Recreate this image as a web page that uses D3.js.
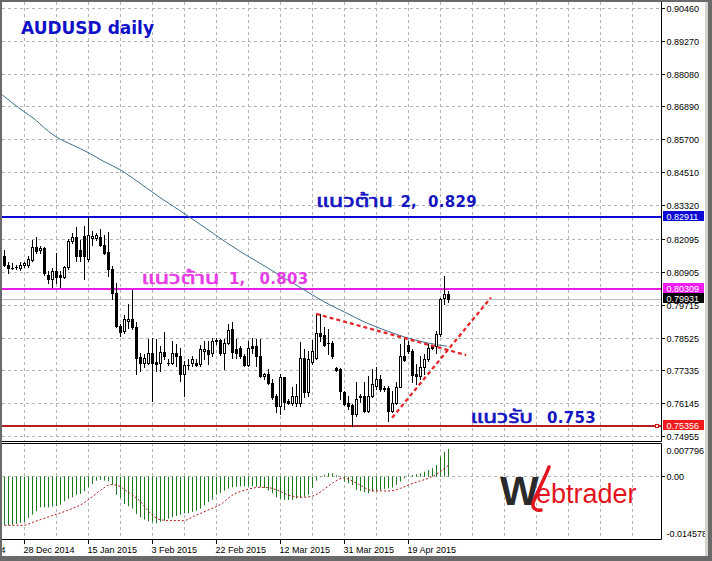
<!DOCTYPE html>
<html><head><meta charset="utf-8">
<script src="https://cdn.jsdelivr.net/npm/d3@7"></script>
<style>body{margin:0;background:#fff;overflow:hidden}svg{display:block}</style>
</head><body><svg id="c" width="712" height="561"></svg>
<script>
// ---------- DATA ----------
const opens = [0.8148,0.8118,0.8107,0.8110,0.8106,0.8116,0.8116,0.8135,0.8183,0.8171,
0.8180,0.8080,0.8065,0.8096,0.8080,0.8072,0.8108,0.8202,0.8219,0.8173,
0.8221,0.8137,0.8213,0.8214,0.8219,0.8191,0.8163,0.8101,0.8017,0.7896,
0.7878,0.7914,0.7921,0.7891,0.7784,0.7764,0.7764,0.7798,0.7767,0.7762,
0.7802,0.7764,0.7764,0.7798,0.7786,0.7722,0.7754,0.7762,0.7764,0.7758,
0.7806,0.7809,0.7800,0.7843,0.7845,0.7800,0.7836,0.7884,0.7812,0.7818,
0.7786,0.7754,0.7824,0.7822,0.7788,0.7714,0.7722,0.7689,0.7644,0.7605,
0.7710,0.7626,0.7617,0.7617,0.7617,0.7779,0.7658,0.7765,0.7782,0.7872,
0.7863,0.7834,0.7834,0.7744,0.7740,0.7658,0.7617,0.7610,0.7577,0.7644,
0.7644,0.7589,0.7641,0.7680,0.7704,0.7671,0.7670,0.7589,0.7617,0.7677,
0.7786,0.7827,0.7806,0.7722,0.7714,0.7746,0.7776,0.7824,0.7822,0.7866,
0.7996,0.8011];
const highs = [0.8173,0.8127,0.8125,0.8116,0.8129,0.8127,0.8151,0.8207,0.8219,0.8185,
0.8183,0.8095,0.8107,0.8159,0.8095,0.8113,0.8212,0.8234,0.8255,0.8209,
0.8257,0.8290,0.8239,0.8231,0.8246,0.8227,0.8236,0.8113,0.8053,0.7902,
0.7935,0.7975,0.8026,0.7909,0.7800,0.7794,0.7848,0.7851,0.7848,0.7824,
0.7875,0.7776,0.7842,0.7830,0.7815,0.7769,0.7776,0.7787,0.7776,0.7827,
0.7842,0.7842,0.7854,0.7854,0.7850,0.7848,0.7902,0.7911,0.7848,0.7824,
0.7794,0.7842,0.7854,0.7848,0.7848,0.7726,0.7740,0.7704,0.7650,0.7722,
0.7710,0.7632,0.7674,0.7686,0.7839,0.7812,0.7806,0.7845,0.7939,0.7939,
0.7891,0.7884,0.7842,0.7747,0.7744,0.7662,0.7644,0.7614,0.7692,0.7650,
0.7692,0.7716,0.7740,0.7746,0.7718,0.7680,0.7680,0.7662,0.7692,0.7830,
0.7848,0.7842,0.7812,0.7758,0.7788,0.7794,0.7830,0.7827,0.7878,0.7999,
0.8077,0.8023];
const lows = [0.8112,0.8087,0.8101,0.8101,0.8099,0.8111,0.8111,0.8131,0.8162,0.8162,
0.8080,0.8053,0.8039,0.8053,0.8039,0.8070,0.8101,0.8198,0.8131,0.8132,
0.8065,0.8131,0.8191,0.8209,0.8185,0.8155,0.8077,0.7993,0.7891,0.7860,
0.7872,0.7890,0.7884,0.7722,0.7734,0.7746,0.7760,0.7626,0.7734,0.7734,
0.7776,0.7754,0.7758,0.7752,0.7698,0.7644,0.7740,0.7752,0.7750,0.7752,
0.7776,0.7758,0.7788,0.7830,0.7791,0.7740,0.7830,0.7779,0.7779,0.7782,
0.7752,0.7752,0.7800,0.7752,0.7710,0.7704,0.7686,0.7632,0.7584,0.7577,
0.7596,0.7614,0.7610,0.7607,0.7607,0.7638,0.7644,0.7758,0.7776,0.7842,
0.7824,0.7794,0.7782,0.7733,0.7632,0.7610,0.7596,0.7535,0.7571,0.7620,
0.7584,0.7584,0.7638,0.7668,0.7662,0.7662,0.7553,0.7584,0.7614,0.7674,
0.7770,0.7800,0.7692,0.7686,0.7704,0.7722,0.7770,0.7812,0.7800,0.7860,
0.7975,0.7983];
const closes = [0.8117,0.8106,0.8106,0.8108,0.8118,0.8123,0.8137,0.8183,0.8166,0.8180,
0.8087,0.8065,0.8096,0.8075,0.8072,0.8111,0.8202,0.8219,0.8149,0.8149,
0.8149,0.8224,0.8221,0.8224,0.8191,0.8161,0.8101,0.8017,0.7896,0.7875,
0.7923,0.7923,0.7891,0.7782,0.7764,0.7782,0.7800,0.7764,0.7759,0.7802,
0.7788,0.7761,0.7798,0.7786,0.7722,0.7754,0.7756,0.7776,0.7754,0.7812,
0.7812,0.7794,0.7842,0.7845,0.7798,0.7836,0.7882,0.7801,0.7800,0.7786,
0.7754,0.7818,0.7815,0.7786,0.7714,0.7722,0.7689,0.7638,0.7605,0.7710,
0.7620,0.7617,0.7641,0.7641,0.7779,0.7658,0.7776,0.7805,0.7872,0.7860,
0.7829,0.7836,0.7788,0.7738,0.7662,0.7614,0.7605,0.7577,0.7632,0.7639,
0.7589,0.7644,0.7686,0.7704,0.7668,0.7669,0.7589,0.7617,0.7677,0.7786,
0.7774,0.7806,0.7718,0.7714,0.7746,0.7776,0.7818,0.7815,0.7866,0.7995,
0.8011,0.7993];
// moving average: [bar index, price]
const maPoints = [[-0.6,0.8733],[1.9,0.8704],[4.9,0.8672],[7.7,0.8643],[9.9,0.8614],[12.9,0.8581],
[16.9,0.8552],[20.9,0.8524],[24.9,0.8491],[28.9,0.8462],[32.2,0.8430],[38.9,0.8361],[45.7,0.8296],
[52.2,0.8231],[58.9,0.8166],[63.9,0.8123],[68.9,0.8079],[73.9,0.8036],[80.1,0.7982],[85.1,0.7946],
[90.1,0.7910],[95.1,0.7881],[100.1,0.7856],[105.1,0.7837],[110.6,0.7823]];
// MACD main (histogram)
const macd = [-0.01128,-0.01128,-0.01113,-0.01098,-0.01074,-0.01051,-0.00958,-0.00881,-0.00804,-0.00711,
-0.00711,-0.00711,-0.00696,-0.00680,-0.00649,-0.00572,-0.00518,-0.00479,-0.00417,-0.00402,
-0.00340,-0.00247,-0.00170,-0.00093,-0.00077,-0.00093,-0.00108,-0.00185,-0.00417,-0.00495,
-0.00634,-0.00688,-0.00742,-0.00866,-0.00943,-0.00997,-0.01036,-0.01051,-0.01082,-0.01051,
-0.01020,-0.00974,-0.00943,-0.00912,-0.00881,-0.00850,-0.00850,-0.00819,-0.00788,-0.00742,
-0.00665,-0.00587,-0.00533,-0.00417,-0.00379,-0.00325,-0.00278,-0.00247,-0.00232,-0.00224,
-0.00224,-0.00224,-0.00224,-0.00232,-0.00247,-0.00263,-0.00325,-0.00386,-0.00479,-0.00510,
-0.00541,-0.00541,-0.00541,-0.00510,-0.00495,-0.00464,-0.00417,-0.00263,-0.00093,-0.00015,
0.00046,0.00085,0.00077,0.00031,-0.00015,-0.00116,-0.00155,-0.00193,-0.00309,-0.00332,
-0.00363,-0.00386,-0.00348,-0.00332,-0.00309,-0.00286,-0.00271,-0.00255,-0.00193,-0.00116,
-0.00039,0.00023,0.00039,0.00054,0.00077,0.00116,0.00155,0.00193,0.00271,0.00464,
0.00580,0.00642];
// MACD signal: [bar index, value]
const signalPoints = [[0,-0.01128],[4.8,-0.01128],[7.3,-0.01051],[11.4,-0.00920],[15.6,-0.00788],
[19.8,-0.00611],[22.3,-0.00441],[24.8,-0.00263],[26.4,-0.00185],[28.1,-0.00201],[30.6,-0.00340],
[33.9,-0.00572],[36.4,-0.00842],[38.9,-0.00997],[41.4,-0.01020],[44.8,-0.01020],[47.3,-0.00920],
[50.6,-0.00788],[53.9,-0.00649],[57.2,-0.00417],[60.6,-0.00301],[63.9,-0.00247],[66.4,-0.00263],
[68.9,-0.00340],[71.4,-0.00441],[74.8,-0.00479],[77.3,-0.00441],[79.8,-0.00301],[82.3,-0.00131],
[84.8,-0.00031],[86.5,-0.00080],[88.5,-0.00175],[92.3,-0.00332],[96.4,-0.00332],[99.0,-0.00271],
[101.4,-0.00178],[103.9,-0.00100],[106.4,-0.00023],[108.9,0.00116],[110.6,0.00232],[111,0.00260]];
// horizontal levels and labels
const levelPrices = [0.82911, 0.80309, 0.75356];
const levelThai = ["แนวต้าน", "แนวต้าน", "แนวรับ"];
const levelNums = ["2,", "1,", ""];
const levelValues = ["0.829", "0.803", "0.753"];
const lastPrice = 0.79931;
// trend lines: [[bar, price],[bar, price]]
const trendDown = [[77.9, 0.7940], [115.4, 0.7791]];
const trendUp = [[96.9, 0.7564], [121.6, 0.7999]];
// axis ticks
const priceTicks = [0.90460,0.89270,0.88080,0.86890,0.85700,0.84510,0.83320,0.82095,0.80905,0.79715,0.78525,0.77335,0.76145,0.74955];
const priceTickLabels = ["0.90460","0.89270","0.88080","0.86890","0.85700","0.84510","0.83320","0.82095","0.80905","0.79715","0.78525","0.77335","0.76145","0.74955"];
const macdTicks = [0.007796, 0.0, -0.014578];
const macdTickLabels = ["0.007796", "0.00", "-0.014578"];
const dateBars = [-11, 5, 21, 37, 53, 69, 85, 101];
const dateLabels = ["9 Dec 2014","28 Dec 2014","15 Jan 2015","3 Feb 2015","22 Feb 2015","12 Mar 2015","31 Mar 2015","19 Apr 2015"];
const gridBars = [-3,5,13,21,29,37,45,53,61,69,77,85,93,101,109,117,125,133,141,149,157];

// ---------- STYLE / LAYOUT ----------
const levelColors = ["#0a0ad2", "#e61ee6", "#b52020"];
const levelBoxColors = ["#0a0ad2", "#f01ef0", "#ee1c1c"];
const levelTextColors = ["#1414c0", "#e63ce6", "#1414c0"];
const textLayout = [ // thaiX, thaiW, numX, valueX, baseline offset
  {tx: 316, tw: 77, nx: 400.5, vx: 428, dy: -10.5},
  {tx: 141.5, tw: 78, nx: 229, vx: 259.5, dy: -5.5},
  {tx: 470.5, tw: 62.5, nx: 0, vx: 547, dy: -3.5}
];
const svg = d3.select("#c");
const L = 2, R = 661, pTop = 2, pBot = 441, mTop = 443, mBot = 540;
const x = d3.scaleLinear().domain([0, 111]).range([4.5, 448.5]);
const y = d3.scaleLinear().domain([0.74955, 0.90460]).range([436.7, 8.3]);
const ym = d3.scaleLinear().domain([-0.014578, 0.007796]).range([539.5, 443]);
const px = v => Math.floor(v) + 0.5;
const AX = "'Liberation Sans', Arial, sans-serif";

svg.append("rect").attr("width", 712).attr("height", 561).attr("fill", "#fff");
const defs = svg.append("defs");
defs.append("clipPath").attr("id", "cp").append("rect").attr("x", L).attr("y", pTop).attr("width", R - L).attr("height", pBot - pTop);
defs.append("clipPath").attr("id", "cm").append("rect").attr("x", L).attr("y", mTop).attr("width", R - L).attr("height", mBot - mTop);
defs.append("clipPath").attr("id", "ca").append("rect").attr("x", 0).attr("y", 0).attr("width", 705).attr("height", 556);

const gp = svg.append("g").attr("clip-path", "url(#cp)");
const gm = svg.append("g").attr("clip-path", "url(#cm)");

// grid price pane
gp.selectAll(".hg").data(priceTicks).join("line")
  .attr("x1", L).attr("x2", R).attr("y1", d => px(y(d))).attr("y2", d => px(y(d)))
  .attr("stroke", "#b4b4b4").attr("stroke-dasharray", "3,3");
gp.selectAll(".vg").data(gridBars).join("line")
  .attr("x1", d => px(x(d))).attr("x2", d => px(x(d))).attr("y1", pTop).attr("y2", pBot)
  .attr("stroke", "#b4b4b4").attr("stroke-dasharray", "3,3");
// grid macd pane
gm.selectAll(".vg").data(gridBars).join("line")
  .attr("x1", d => px(x(d))).attr("x2", d => px(x(d))).attr("y1", mTop).attr("y2", mBot)
  .attr("stroke", "#b4b4b4").attr("stroke-dasharray", "3,3");
gm.append("line").attr("x1", L).attr("x2", R).attr("y1", px(ym(0))).attr("y2", px(ym(0)))
  .attr("stroke", "#b4b4b4").attr("stroke-dasharray", "3,3");

// bid line
gp.append("line").attr("x1", L).attr("x2", R).attr("y1", px(y(lastPrice))).attr("y2", px(y(lastPrice)))
  .attr("stroke", "#bcbcbc");

// level lines
levelPrices.forEach((p, k) => {
  gp.append("line").attr("x1", L).attr("x2", R).attr("y1", Math.round(y(p))).attr("y2", Math.round(y(p)))
    .attr("stroke", levelColors[k]).attr("stroke-width", 2);
});

// MA line
gp.append("path").datum(maPoints)
  .attr("d", d3.line().x(d => x(d[0])).y(d => y(d[1])).curve(d3.curveMonotoneX))
  .attr("fill", "none").attr("stroke", "#3f6f8f").attr("stroke-width", 1);

// candles
const idx = d3.range(opens.length);
const cg = gp.append("g");
idx.forEach(i => {
  const cx = px(x(i));
  cg.append("line").attr("x1", cx).attr("x2", cx).attr("y1", Math.round(y(highs[i]))).attr("y2", Math.round(y(lows[i])) + 1)
    .attr("stroke", "#000");
  const top = Math.round(y(Math.max(opens[i], closes[i]))) + 0.5;
  const bot = Math.round(y(Math.min(opens[i], closes[i]))) + 0.5;
  if (bot - top < 1) {
    cg.append("line").attr("x1", cx - 1.5).attr("x2", cx + 1.5).attr("y1", top).attr("y2", top).attr("stroke", "#000");
  } else {
    cg.append("rect").attr("x", cx - 1).attr("y", top).attr("width", 2).attr("height", bot - top)
      .attr("fill", closes[i] >= opens[i] ? "#fff" : "#000").attr("stroke", "#000");
  }
});

// trend lines
[trendDown, trendUp].forEach(t => {
  gp.append("line").attr("x1", x(t[0][0])).attr("y1", y(t[0][1])).attr("x2", x(t[1][0])).attr("y2", y(t[1][1]))
    .attr("stroke", "#e3262a").attr("stroke-width", 2.3).attr("stroke-dasharray", "4,3");
});

// red marker at right of support
svg.append("rect").attr("x", 655.5).attr("y", Math.round(y(levelPrices[2])) - 1.5).attr("width", 3).attr("height", 3)
  .attr("fill", "#fff").attr("stroke", "#d01010");

// level texts
const THAI = "Tahoma, 'Noto Sans Thai', 'Noto Sans', 'DejaVu Sans', sans-serif";
const NUM = "'DejaVu Sans', sans-serif";
levelPrices.forEach((p, k) => {
  const lay = textLayout[k];
  const by = Math.round(y(p)) + lay.dy;
  svg.append("text").attr("x", lay.tx).attr("y", by)
    .attr("font-family", THAI).attr("font-weight", "normal").attr("font-size", 17)
    .attr("stroke", levelTextColors[k]).attr("stroke-width", 0.6)
    .attr("textLength", lay.tw).attr("lengthAdjust", "spacingAndGlyphs")
    .attr("fill", levelTextColors[k]).text(levelThai[k]);
  if (levelNums[k]) svg.append("text").attr("x", lay.nx).attr("y", by)
    .attr("font-family", NUM).attr("font-weight", "bold").attr("font-size", 15)
    .attr("fill", levelTextColors[k]).text(levelNums[k]);
  svg.append("text").attr("x", lay.vx).attr("y", by)
    .attr("font-family", NUM).attr("font-weight", "bold").attr("font-size", 15).attr("letter-spacing", 0.3)
    .attr("fill", levelTextColors[k]).text(levelValues[k]);
});

// title
svg.append("text").attr("x", 21).attr("y", 34.3).attr("font-family", "'DejaVu Sans', sans-serif")
  .attr("font-weight", "bold").attr("font-size", 17).attr("fill", "#1010c8").text("AUDUSD daily");

// MACD histogram & signal
gm.selectAll(".hb").data(idx).join("rect")
  .attr("x", i => Math.floor(x(i))).attr("width", 1)
  .attr("y", i => Math.min(ym(0), ym(macd[i]))).attr("height", i => Math.abs(ym(macd[i]) - ym(0)))
  .attr("fill", "#1f7a1f");
gm.append("path").datum(signalPoints)
  .attr("d", d3.line().x(d => x(d[0])).y(d => ym(d[1])).curve(d3.curveMonotoneX))
  .attr("fill", "none").attr("stroke", "#b01818").attr("stroke-width", 1).attr("stroke-dasharray", "2,2");

// pane borders
svg.append("line").attr("x1", L).attr("x2", R + 0.5).attr("y1", 441.5).attr("y2", 441.5).attr("stroke", "#000");
svg.append("line").attr("x1", L).attr("x2", R + 0.5).attr("y1", 443.5).attr("y2", 443.5).attr("stroke", "#000");
svg.append("line").attr("x1", L).attr("x2", R + 0.5).attr("y1", 539.5).attr("y2", 539.5).attr("stroke", "#000");
svg.append("line").attr("x1", 661.5).attr("x2", 661.5).attr("y1", pTop).attr("y2", 441.5).attr("stroke", "#000");
svg.append("line").attr("x1", 661.5).attr("x2", 661.5).attr("y1", 443.5).attr("y2", 539.5).attr("stroke", "#000");

// axis labels
const ga = svg.append("g").attr("clip-path", "url(#ca)");
priceTicks.forEach((v, k) => {
  const yy = px(y(v));
  ga.append("line").attr("x1", 662).attr("x2", 665).attr("y1", yy).attr("y2", yy).attr("stroke", "#000");
  ga.append("text").attr("x", 666.5).attr("y", yy + 3.5).attr("font-family", AX).attr("font-size", 9)
    .attr("fill", "#000").text(priceTickLabels[k]);
});
macdTicks.forEach((v, k) => {
  const yy = [450, px(ym(0)), 533.5][k];
  if (k === 1) ga.append("line").attr("x1", 662).attr("x2", 665).attr("y1", yy).attr("y2", yy).attr("stroke", "#000");
  ga.append("text").attr("x", 666.5).attr("y", yy + 3.5).attr("font-family", AX).attr("font-size", 9)
    .attr("fill", "#000").text(macdTickLabels[k]);
});
// price boxes
const boxes = [[levelPrices[0], levelBoxColors[0]], [levelPrices[1], levelBoxColors[1]], [lastPrice, "#000"], [levelPrices[2], levelBoxColors[2]]];
boxes.forEach(b => {
  const yy = Math.round(y(b[0]));
  ga.append("rect").attr("x", 663).attr("y", yy - 6).attr("width", 41).attr("height", 10).attr("fill", b[1]);
  ga.append("text").attr("x", 666.5).attr("y", yy + 3).attr("font-family", AX).attr("font-size", 9)
    .attr("fill", "#fff").text(b[0].toFixed(5));
});

// date axis
dateBars.forEach((b, k) => {
  const xx = px(x(b));
  svg.append("line").attr("x1", xx).attr("x2", xx).attr("y1", 540).attr("y2", 544).attr("stroke", "#000");
  svg.append("text").attr("x", xx - 1).attr("y", 552.5).attr("font-family", AX).attr("font-size", 9)
    .attr("fill", "#000").text(dateLabels[k]);
});

// logo
const lg = svg.append("g");
lg.append("text").attr("x", 500).attr("y", 505).attr("font-family", AX).attr("font-weight", "bold")
  .attr("font-size", 41).attr("fill", "#2a2a2a").text("W");
lg.append("path").attr("d", "M549,467 C545,478 537,492 533,503 C532,508 536,511 541,510")
  .attr("fill", "none").attr("stroke", "#e3141c").attr("stroke-width", 3.5).attr("stroke-linecap", "round");
lg.append("text").attr("x", 536).attr("y", 503).attr("font-family", AX)
  .attr("font-size", 27).attr("fill", "#e3141c").text("ebtrader");

// window frame
svg.append("rect").attr("x", 705).attr("y", 0).attr("width", 3).attr("height", 561).attr("fill", "#d6d3ce");
svg.append("rect").attr("x", 708).attr("y", 0).attr("width", 4).attr("height", 561).attr("fill", "#6a6a6a");
svg.append("rect").attr("x", 0).attr("y", 556).attr("width", 712).attr("height", 5).attr("fill", "#6a6a6a");
svg.append("rect").attr("x", 0).attr("y", 0).attr("width", 2).attr("height", 561).attr("fill", "#6a6a6a");
svg.append("rect").attr("x", 0).attr("y", 0).attr("width", 712).attr("height", 2).attr("fill", "#6a6a6a");
</script></body></html>
